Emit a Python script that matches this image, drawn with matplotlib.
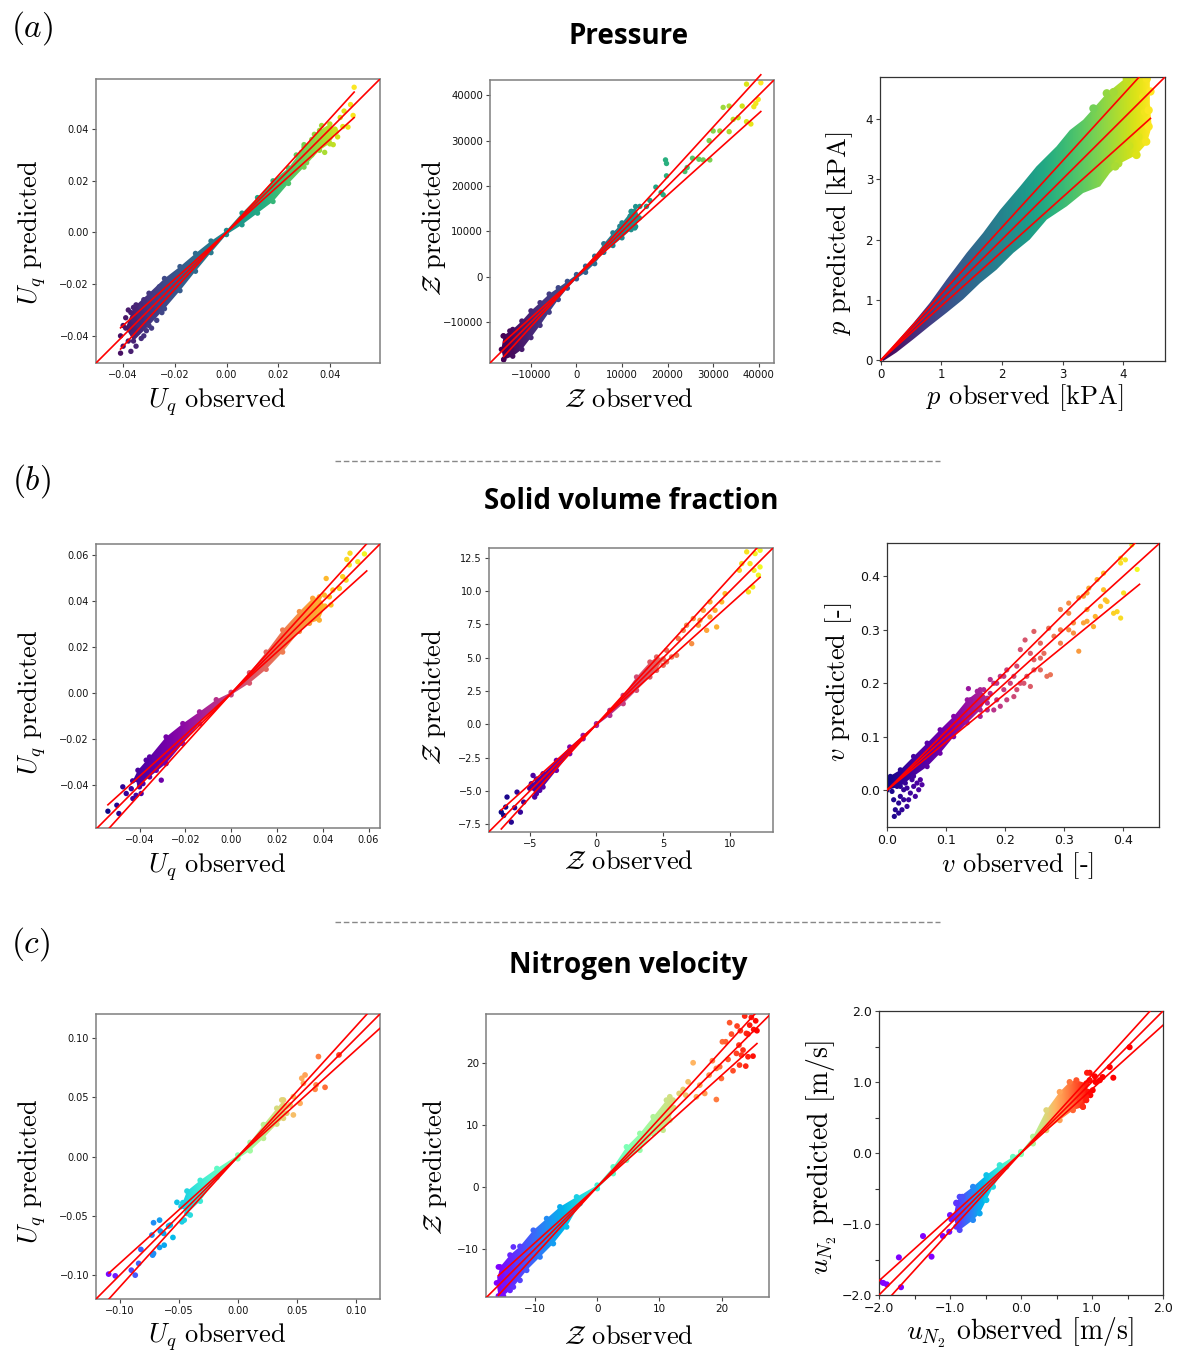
import numpy as np
import matplotlib
matplotlib.use('Agg')
import matplotlib.pyplot as plt
from matplotlib.patches import Polygon
from matplotlib.colors import Normalize
from matplotlib.lines import Line2D
from matplotlib.ticker import FuncFormatter, MultipleLocator

plt.rcParams['mathtext.fontset'] = 'cm'

# ---------------- DATA ----------------
# (a) Pressure -- Uq
a1_obs = [0.0494, 0.048, 0.049, 0.047, 0.0455, 0.044, 0.042, 0.0413, 0.040, 0.0368, 0.0394, 0.038, 0.036,
          0.035, 0.043, 0.045, 0.038, 0.033, 0.032, 0.030, 0.031, 0.033, 0.034, 0.029, 0.028, 0.027,
          -0.041, -0.041, -0.040, -0.039, -0.038, -0.037, -0.036, -0.035, -0.034, -0.033, -0.032, -0.031,
          -0.030, -0.029, -0.040, -0.038, -0.037, -0.036, -0.035, -0.034, -0.033, -0.032, -0.031, -0.030,
          -0.028, -0.027, -0.026, -0.025]
a1_pred = [0.0562, 0.0495, 0.0453, 0.0408, 0.047, 0.0445, 0.040, 0.034, 0.0343, 0.0414, 0.0382, 0.036, 0.038,
           0.035, 0.037, 0.041, 0.031, 0.036, 0.030, 0.034, 0.027, 0.030, 0.038, 0.031, 0.025, 0.030,
           -0.0467, -0.040, -0.036, -0.033, -0.042, -0.031, -0.039, -0.044, -0.036, -0.029, -0.040, -0.034,
           -0.027, -0.037, -0.044, -0.030, -0.046, -0.034, -0.028, -0.031, -0.041, -0.026, -0.038, -0.032,
           -0.025, -0.034, -0.021, -0.031]
a1_band_x = [-0.039, -0.036, -0.030, -0.024, -0.018, -0.012, -0.006, 0.0, 0.006, 0.012, 0.018, 0.024, 0.030,
             0.036, 0.040, 0.0425,
             0.040, 0.036, 0.030, 0.024, 0.018, 0.012, 0.006, 0.0, -0.006, -0.012, -0.018, -0.024, -0.030,
             -0.036]
a1_band_y = [-0.037, -0.029, -0.0235, -0.0178, -0.0132, -0.0081, -0.0033, 0.0008, 0.0075, 0.0135, 0.0200,
             0.0250, 0.0330, 0.0395, 0.0420, 0.039,
             0.0345, 0.0318, 0.0253, 0.0190, 0.0120, 0.0075, 0.0030, -0.0008, -0.0078, -0.0150, -0.0225,
             -0.0295, -0.0360, -0.0420]

# (a) Pressure -- Z
a2_obs = [37360, 40510, 39930, 39410, 38970, 32230, 33550, 36410, 34430, 35530, 37360, 38320, 30030, 31500,
          33550, 29150, 29300, 27840, 26890, 25490, 24320, 23810, 19780, 19560, 19780, 19050, 18600, 17440,
          16120, 15380, 12450, 11800, 10990, 12820, 9520, 8790, 7330, 13190, 13920, 12090,
          -15970, -16120, -15020, -14650, -12820, -11720, -13190, -15380, -14290]
a2_pred = [42490, 42780, 39120, 38240, 37510, 37360, 37650, 37650, 34720, 35090, 34210, 33700, 32160, 32160,
           32010, 30040, 25780, 25780, 25930, 26150, 24100, 23220, 22270, 25780, 24990, 18090, 18600, 19780,
           16850, 15530, 14070, 13400, 11140, 10770, 11140, 9670, 7470, 13330, 15530, 14430,
           -18170, -13040, -13040, -11940, -11940, -10840, -15240, -15600, -16700]
a2_band_x = [-16500, -16000, -14000, -12000, -10000, -8000, -6000, -4000, -2000, 0, 2000, 4000, 6000, 8000,
             10000, 12000, 13000, 13800,
             13000, 12000, 10000, 8000, 6000, 4000, 2000, 0, -2000, -4000, -6000, -8000, -10000, -12000,
             -14000, -16000]
a2_band_y = [-16000, -13000, -11600, -9750, -7500, -5700, -3800, -2400, -1000, 500, 2350, 4550, 7300, 9700,
             11900, 14400, 15500, 13000,
             11100, 10400, 8600, 6900, 5400, 2900, 1000, -440, -2500, -5000, -7800, -10700, -13400, -16000,
             -17500, -18300]

# (a) Pressure -- p [kPA]
a3_obs = [3.73, 3.84, 4.06, 4.39, 4.36, 4.42, 4.42, 4.38, 4.22, 3.92, 3.87, 4.33, 3.51, 4.45, 4.25, 4.10]
a3_pred = [4.42, 4.44, 4.66, 4.66, 4.11, 4.14, 3.87, 3.62, 3.40, 3.26, 3.21, 4.36, 4.17, 4.45, 3.70, 3.55]
a3_band_x = [0.0, 0.155, 0.54, 0.81, 1.09, 1.42, 1.69, 1.97, 2.30, 2.57, 2.90, 3.12, 3.34, 3.51, 3.73, 4.00,
             4.20, 4.44,
             4.44, 4.47, 4.39, 4.22, 3.95, 3.78, 3.62, 3.34, 3.07, 2.74, 2.46, 2.19, 1.91, 1.64, 1.36, 1.09,
             0.81, 0.54, 0.26, 0.045]
a3_band_y = [0.02, 0.18, 0.62, 0.95, 1.34, 1.78, 2.11, 2.49, 2.88, 3.21, 3.54, 3.81, 3.98, 4.17, 4.42, 4.64,
             4.69, 4.69,
             4.25, 3.87, 3.59, 3.40, 3.26, 3.10, 2.88, 2.77, 2.55, 2.33, 2.00, 1.78, 1.50, 1.28, 1.01, 0.79,
             0.57, 0.35, 0.13, -0.01]

# (b) Solid volume fraction -- Uq
b1_obs = [-0.0538, -0.0499, -0.049, -0.0473, -0.0458, -0.0436, -0.0429, -0.0415, -0.040, -0.0393, -0.0385,
          -0.0371, -0.0349, -0.0335, -0.0327, -0.0305, -0.0385,
          0.0519, 0.0582, 0.0553, 0.0516, 0.0505, 0.0502, 0.0487, 0.0473, 0.0429, 0.0444, 0.0415, 0.0407,
          0.0436, 0.0385, 0.0371, 0.0378, 0.0356, 0.0342, 0.0327]
b1_pred = [-0.0512, -0.0486, -0.0522, -0.0406, -0.0435, -0.0414, -0.0457, -0.0443, -0.0406, -0.0435, -0.037,
           -0.029, -0.0305, -0.0283, -0.0334, -0.0377, -0.0392,
           0.061, 0.0607, 0.0573, 0.0559, 0.0583, 0.0493, 0.0508, 0.0457, 0.042, 0.045, 0.05, 0.0428,
           0.0385, 0.0363, 0.0334, 0.0399, 0.0348, 0.0377, 0.0363]
b1_band_x = [-0.043, -0.0407, -0.0356, -0.0284, -0.0211, -0.0138, -0.0065, 0.0, 0.008, 0.0153, 0.0225,
             0.0298, 0.0356, 0.0385, 0.041,
             0.0385, 0.0342, 0.0298, 0.0225, 0.0153, 0.008, 0.0, -0.0065, -0.0138, -0.0211, -0.0284,
             -0.0356, -0.040]
b1_band_y = [-0.038, -0.0334, -0.0276, -0.0189, -0.0131, -0.008, -0.0027, 0.0005, 0.0090, 0.0180, 0.0276,
             0.0356, 0.0414, 0.042, 0.038,
             0.0319, 0.0305, 0.0270, 0.0180, 0.0105, 0.0045, -0.0006, -0.0055, -0.0131, -0.0218, -0.0305,
             -0.0363, -0.0392]

# (b) Solid volume fraction -- Z
b2_obs = [-7.13, -6.95, -6.7, -6.8, -6.13, -6.38, -5.95, -5.7, -5.45, -4.75, -4.63, -4.88, -4.25, -4.5,
          11.7, 12.05, 11.25, 11.88, 10.88, 11.5, 12.25, 11.8, 12.13, 11.7, 11.38, 10.7, 12.25, 9.63, 9.38,
          8.5, 8.88, 8.5, 9.0, 8.25, 7.75, 7.25, 6.75, 6.5, 7.13, 6.13, 6.0, 5.63, 5.25, 5.0, 5.25, 4.75,
          8.0, 7.63]
b2_pred = [-6.58, -6.83, -5.45, -6.2, -6.25, -7.33, -5.08, -6.58, -5.83, -3.83, -5.45, -4.45, -4.95, -4.45,
           13.43, 13.3, 12.93, 12.8, 12.05, 12.05, 11.8, 11.55, 11.18, 10.3, 9.93, 11.55, 13.05, 9.8, 9.18,
           9.18, 8.55, 8.05, 7.3, 7.05, 7.8, 7.93, 7.43, 7.05, 6.05, 6.43, 5.18, 5.05, 4.68, 4.43, 5.55, 4.8,
           8.55, 7.43]
b2_band_x = [-5.0, -4.5, -4.0, -3.0, -2.0, -1.0, 0.0, 1.0, 2.0, 3.0, 4.0, 4.5, 5.0,
             4.5, 4.0, 3.0, 2.0, 1.0, 0.0, -1.0, -2.0, -3.0, -4.0, -4.5]
b2_band_y = [-4.8, -4.1, -3.7, -2.7, -1.7, -0.83, 0.05, 1.05, 2.17, 3.55, 4.67, 5.05, 4.9,
             4.05, 3.55, 2.55, 1.55, 0.67, -0.08, -1.08, -2.2, -3.45, -4.7, -5.2]

# (b) Solid volume fraction -- v [-]
b3_obs = [0.003, 0.0085, 0.0113, 0.0141, 0.0124, 0.0198, 0.0226, 0.0283, 0.0311, 0.0339, 0.0396, 0.0452,
          0.0509, 0.0565, 0.017, 0.0057, 0.0254, 0.0367, 0.048, 0.0537, 0.0085, 0.0283, 0.0424, 0.0593,
          0.0198, 0.0339,
          0.249, 0.234, 0.226, 0.243, 0.260, 0.274, 0.294, 0.308, 0.325, 0.339, 0.342, 0.356, 0.367, 0.396,
          0.404, 0.415, 0.396, 0.424, 0.401, 0.390, 0.396, 0.384, 0.373, 0.362, 0.353, 0.339, 0.333, 0.325,
          0.350, 0.316, 0.308, 0.294, 0.294, 0.277, 0.266, 0.260, 0.249, 0.237, 0.226, 0.215, 0.220, 0.203,
          0.198, 0.186, 0.175, 0.170, 0.192, 0.181, 0.153, 0.158, 0.141, 0.367, 0.370, 0.333, 0.339, 0.308,
          0.316, 0.283,
          0.164, 0.175, 0.186, 0.198, 0.209, 0.220, 0.232, 0.243, 0.249, 0.260, 0.271, 0.170, 0.181, 0.192,
          0.203, 0.215, 0.141, 0.138]
b3_pred = [0.0164, -0.0024, -0.018, -0.0367, -0.0492, -0.0242, -0.0117, 0.0007, 0.0132, -0.0305, -0.0055,
           0.007, 0.0132, 0.0195, 0.007, 0.0257, -0.0367, -0.018, -0.0117, 0.0007, 0.0101, -0.018, 0.0195,
           0.0101, -0.043, 0.0038,
           0.297, 0.281, 0.263, 0.256, 0.275, 0.303, 0.338, 0.350, 0.360, 0.369, 0.378, 0.394, 0.406, 0.425,
           0.431, 0.459, 0.434, 0.413, 0.369, 0.334, 0.322, 0.331, 0.353, 0.344, 0.325, 0.316, 0.313, 0.260,
           0.306, 0.313, 0.300, 0.300, 0.275, 0.216, 0.256, 0.247, 0.225, 0.213, 0.200, 0.213, 0.232, 0.225,
           0.188, 0.169, 0.181, 0.163, 0.213, 0.200, 0.185, 0.138, 0.144, 0.375, 0.356, 0.363, 0.338, 0.331,
           0.294, 0.288,
           0.188, 0.207, 0.200, 0.213, 0.200, 0.188, 0.200, 0.194, 0.244, 0.225, 0.213, 0.150, 0.150, 0.157,
           0.169, 0.175, 0.169, 0.190]
b3_band_x = [0.0, 0.0226, 0.045, 0.068, 0.090, 0.113, 0.136, 0.158, 0.170,
             0.158, 0.136, 0.113, 0.090, 0.068, 0.045, 0.0226, 0.0]
b3_band_y = [0.023, 0.038, 0.063, 0.088, 0.113, 0.138, 0.169, 0.188, 0.172,
             0.150, 0.126, 0.100, 0.069, 0.044, 0.026, 0.007, 0.0]

# (c) Nitrogen velocity -- Uq
c1_obs = [-0.1093, -0.1037, -0.0901, -0.0868, -0.0839, -0.082, -0.0727, -0.0721, -0.0713, -0.0713, -0.0662,
          -0.0656, -0.0628, -0.0662, -0.0623, -0.0586, -0.0549, -0.0572, -0.0515, -0.0465, -0.0473, -0.0431,
          -0.0403, -0.0454,
          0.0682, 0.0856, 0.0738, 0.0654, 0.0662, 0.0541, 0.0569, 0.0555, 0.0527, 0.047, 0.0442, 0.047,
          0.0414, 0.0372]
c1_pred = [-0.099, -0.1005, -0.0957, -0.0999, -0.09, -0.0782, -0.0661, -0.083, -0.0816, -0.0557, -0.0535,
           -0.0627, -0.0647, -0.0765, -0.0746, -0.0585, -0.0681, -0.0577, -0.0385, -0.0388, -0.0549, -0.0436,
           -0.0492, -0.0535,
           0.0844, 0.0858, 0.0585, 0.0568, 0.0605, 0.0661, 0.0689, 0.0619, 0.045, 0.0506, 0.0436, 0.0352,
           0.0366, 0.0478]
c1_band_x = [-0.048, -0.043, -0.0318, -0.0177, 0.0, 0.0104, 0.0217, 0.033, 0.0386, 0.041,
             0.0386, 0.033, 0.0217, 0.0104, 0.0, -0.0177, -0.0318, -0.043]
c1_band_y = [-0.042, -0.0290, -0.0200, -0.0100, 0.0013, 0.0120, 0.0270, 0.0408, 0.0478, 0.042,
             0.0324, 0.0275, 0.0155, 0.0050, -0.0017, -0.0175, -0.0375, -0.0478]

# (c) Nitrogen velocity -- Z
c2_obs = [23.73, 24.8, 25.5, 24.53, 25.17, 25.7, 24.0, 24.26, 21.3, 22.5, 21.6, 23.03, 20.14, 20.67, 22.8,
          23.46, 22.4, 23.2, 21.05, 24.26, 25.07, 23.9, 22.9, 21.85, 19.71, 18.53, 19.17, 18.0, 19.98, 19.17,
          17.3, 16.5, 15.43, 14.62, 13.82, 13.18, 14.25, 15.96, 12.2,
          -15.9, -15.64, -15.1, -14.57, -13.5, -12.96, -14.03, -15.37, -12.43, -11.62]
c2_pred = [27.57, 27.36, 26.8, 26.1, 25.4, 25.2, 24.77, 24.66, 26.5, 25.96, 24.66, 25.2, 23.42, 23.42, 22.89,
           22.08, 21.54, 21.27, 20.57, 21.0, 21.1, 19.49, 19.66, 18.74, 19.39, 20.36, 19.12, 18.04, 17.5, 14.1,
           15.08, 16.42, 20.03, 16.96, 15.72, 15.08, 14.8, 14.54, 14.0,
           -12.92, -14.54, -15.62, -13.73, -9.69, -12.12, -16.7, -17.23, -15.08, -10.77]
c2_band_x = [-16.2, -15.64, -14.03, -12.43, -10.28, -8.14, -6.0, -3.32, 0.0, 2.57, 4.71, 6.86, 9.0, 11.14,
             11.68, 12.3,
             11.68, 10.6, 9.0, 6.86, 4.71, 2.57, 0.0, -2.78, -4.93, -7.07, -9.21, -11.36, -13.5, -15.1, -15.9]
c2_band_y = [-15.5, -12.92, -11.0, -9.6, -7.0, -5.12, -3.23, -1.62, 0.27, 3.23, 6.46, 8.62, 11.31, 14.0,
             14.54, 12.8,
             10.77, 9.15, 8.62, 5.92, 4.31, 2.15, -0.27, -2.69, -6.46, -9.15, -11.31, -13.46, -16.16, -17.6,
             -17.6]

# (c) Nitrogen velocity -- u_N2 [m/s]
c3_obs = [-1.99, -1.94, -1.89, -1.69, -1.72, -1.38, -1.26, -1.10, -1.01, -1.0, -0.98, -0.873, -0.826,
          -0.911, -0.817,
          1.53, 1.25, 1.30, 1.15, 1.11, 1.04, 0.967, 0.93, 1.01, 0.977, 0.92, 1.05, 0.873, 0.826, 0.967]
c3_pred = [-1.81, -1.83, -1.85, -1.89, -1.47, -1.17, -1.46, -1.17, -1.11, -0.874, -0.935, -0.982, -0.617,
           -0.71, -0.757,
           1.49, 1.21, 1.06, 1.07, 1.025, 1.08, 1.13, 1.13, 0.884, 0.814, 0.79, 1.0, 0.65, 0.743, 1.025]
c3_band_x = [-0.95, -0.911, -0.864, -0.676, -0.488, -0.30, -0.113, 0.0, 0.169, 0.357, 0.545, 0.685, 0.78,
             0.92, 0.95,
             0.92, 0.873, 0.732, 0.545, 0.357, 0.169, 0.0, -0.207, -0.394, -0.488, -0.582, -0.676, -0.864,
             -0.911]
c3_band_y = [-0.90, -0.70, -0.617, -0.476, -0.312, -0.171, -0.054, 0.016, 0.23, 0.603, 0.86, 1.0, 1.025,
             0.98, 0.86,
             0.743, 0.65, 0.603, 0.462, 0.321, 0.134, -0.016, -0.194, -0.476, -0.663, -0.851, -0.944, -1.085,
             -1.038]

section_titles = ['Pressure', 'Solid volume fraction', 'Nitrogen velocity']
section_letters = ['$(a)$', '$(b)$', '$(c)$']

# ---------------- FIGURE ----------------
W, H = 1182, 1354
fig = plt.figure(figsize=(W / 100, H / 100), dpi=100)


def rect(x0, y0, x1, y1):
    return [x0 / W, 1 - y1 / H, (x1 - x0) / W, (y1 - y0) / H]


def uminus(fmt):
    return FuncFormatter(lambda v, p: (fmt % v).replace('-', '\u2212'))


def panel(box, xlim, ylim, xticks, yticks, obs, pred, bx, by, cmap, vmin, vmax, line_rng,
          ms, tick_fs, spine_c, spine_lw, line_clip=True, fmt=None, minor=None, edge_pts=True):
    ax = fig.add_axes(rect(*box))
    norm = Normalize(vmin, vmax)
    poly = Polygon(np.column_stack([bx, by]), closed=True, fc='none', ec='none')
    ax.add_patch(poly)
    grad = np.linspace(xlim[0], xlim[1], 512)[None, :]
    im = ax.imshow(grad, cmap=cmap, norm=norm, extent=[xlim[0], xlim[1], ylim[0], ylim[1]],
                   origin='lower', aspect='auto', interpolation='bilinear', zorder=1)
    im.set_clip_path(poly)
    if edge_pts:
        ax.scatter(bx, by, c=bx, cmap=cmap, norm=norm, s=ms, edgecolors='none', zorder=2)
    ax.scatter(obs, pred, c=obs, cmap=cmap, norm=norm, s=ms, edgecolors='none', zorder=2)
    xs = np.array(line_rng)
    ax.plot(xs, 1.1 * xs, color='red', lw=1.2, zorder=3, clip_on=line_clip)
    ax.plot(xs, 0.9 * xs, color='red', lw=1.2, zorder=3, clip_on=line_clip)
    ax.plot(xlim, xlim, color='red', lw=1.2, zorder=3)
    ax.set_xlim(xlim)
    ax.set_ylim(ylim)
    ax.set_xticks(xticks)
    ax.set_yticks(yticks)
    if fmt is not None:
        ax.xaxis.set_major_formatter(uminus(fmt))
        ax.yaxis.set_major_formatter(uminus(fmt))
    if minor is not None:
        ax.xaxis.set_minor_locator(MultipleLocator(minor))
        ax.yaxis.set_minor_locator(MultipleLocator(minor))
        ax.tick_params(which='minor', length=3, width=0.8, color='#333333')
    ax.tick_params(labelsize=tick_fs, length=3, width=0.8, pad=2, color='#444444',
                   labelcolor='#111111')
    for s in ax.spines.values():
        s.set_color(spine_c)
        s.set_linewidth(spine_lw)
    return ax


def label(x, y, s, rot=0, fs=19):
    fig.text(x / W, 1 - y / H, s, rotation=rot, ha='center', va='center', fontsize=fs,
             family='cmr10')


# ---- row (a)
panel((96, 79, 380, 363), (-0.0505, 0.0594), (-0.0505, 0.0594),
      [-0.04, -0.02, 0.0, 0.02, 0.04], [-0.04, -0.02, 0.0, 0.02, 0.04],
      a1_obs, a1_pred, a1_band_x, a1_band_y, 'viridis', -0.045, 0.05, (-0.041, 0.0494),
      15, 7, '#7f7f7f', 1.1)
panel((490, 80, 774, 363), (-19000, 43400), (-19000, 43400),
      [-10000, 0, 10000, 20000, 30000, 40000], [-10000, 0, 10000, 20000, 30000, 40000],
      a2_obs, a2_pred, a2_band_x, a2_band_y, 'viridis', -16000, 40500, (-16000, 40500),
      15, 7.3, '#7f7f7f', 1.1, line_clip=False)
panel((880, 77, 1165, 361), (-0.01, 4.69), (-0.01, 4.69),
      [0, 1, 2, 3, 4], [0, 1, 2, 3, 4],
      a3_obs, a3_pred, a3_band_x, a3_band_y, 'viridis', 0.0, 4.45, (0.0, 4.45),
      36, 8.5, '#333333', 0.9, edge_pts=False)

# ---- row (b)
panel((96, 544, 380, 828), (-0.059, 0.065), (-0.0585, 0.065),
      [-0.04, -0.02, 0.0, 0.02, 0.04, 0.06], [-0.04, -0.02, 0.0, 0.02, 0.04, 0.06],
      b1_obs, b1_pred, b1_band_x, b1_band_y, 'plasma', -0.054, 0.059, (-0.0538, 0.0592),
      15, 7, '#7f7f7f', 1.1)
panel((489, 548, 773, 832), (-8.05, 13.22), (-8.07, 13.22),
      [-5, 0, 5, 10], [-7.5, -5.0, -2.5, 0.0, 2.5, 5.0, 7.5, 10.0, 12.5],
      b2_obs, b2_pred, b2_band_x, b2_band_y, 'plasma', -7.1, 12.3, (-7.13, 12.25),
      15, 7, '#7f7f7f', 1.1)
panel((887, 543, 1159, 827), (0.0, 0.461), (-0.069, 0.4625),
      [0.0, 0.1, 0.2, 0.3, 0.4], [0.0, 0.1, 0.2, 0.3, 0.4],
      b3_obs, b3_pred, b3_band_x, b3_band_y, 'plasma', 0.0, 0.425, (0.0, 0.428),
      14, 9, '#333333', 0.9)

# ---- row (c)
panel((96, 1014, 380, 1299), (-0.12, 0.1203), (-0.12, 0.1203),
      [-0.10, -0.05, 0.0, 0.05, 0.10], [-0.10, -0.05, 0.0, 0.05, 0.10],
      c1_obs, c1_pred, c1_band_x, c1_band_y, 'rainbow', -0.112, 0.105, (-0.109, 0.13),
      17, 7, '#7f7f7f', 1.1)
panel((486, 1014, 769, 1297), (-17.9, 27.64), (-17.77, 27.9),
      [-10, 0, 10, 20], [-10, 0, 10, 20],
      c2_obs, c2_pred, c2_band_x, c2_band_y, 'rainbow', -16, 26, (-15.9, 25.7),
      17, 7.5, '#7f7f7f', 1.1)
panel((879, 1011, 1163, 1295), (-2.0, 2.0), (-2.0, 2.0),
      [-2, -1, 0, 1, 2], [-2, -1, 0, 1, 2],
      c3_obs, c3_pred, c3_band_x, c3_band_y, 'rainbow', -1.05, 1.0, (-2.0, 2.1),
      19, 9, '#333333', 0.9, fmt='%.1f', minor=0.5)

# ---- axis labels
label(32, 232, r'$U_q$ predicted', 90)
label(217, 402, r'$U_q$ observed')
label(434, 228, r'$\mathcal{Z}$ predicted', 90)
label(629, 400, r'$\mathcal{Z}$ observed')
label(840, 233, r'$p$ predicted [kPA]', 90)
label(1025, 398, r'$p$ observed [kPA]')

label(32, 702, r'$U_q$ predicted', 90)
label(217, 867, r'$U_q$ observed')
label(434, 697, r'$\mathcal{Z}$ predicted', 90)
label(629, 862, r'$\mathcal{Z}$ observed')
label(839, 682, r'$v$ predicted [-]', 90)
label(1018, 866, r'$v$ observed [-]')

label(32, 1171, r'$U_q$ predicted', 90)
label(217, 1337, r'$U_q$ observed')
label(435, 1167, r'$\mathcal{Z}$ predicted', 90)
label(629, 1337, r'$\mathcal{Z}$ observed')
label(822, 1158, r'$u_{N_2}$ predicted [m/s]', 90, fs=20)
label(1020, 1333, r'$u_{N_2}$ observed [m/s]', fs=20)

# ---- section titles, letters, separators
for (tx, ty), t in zip([(629, 37), (631, 502), (628, 965)], section_titles):
    fig.text(tx / W, 1 - ty / H, t, ha='center', va='center', fontsize=20,
             family='Open Sans', weight='bold')
for (lx, ly), t in zip([(32, 28), (31, 481), (31, 944)], section_letters):
    fig.text(lx / W, 1 - ly / H, t, ha='center', va='center', fontsize=24)
for yy in (461, 922):
    fig.add_artist(Line2D([335 / W, 940 / W], [1 - yy / H, 1 - yy / H], color='#888888',
                          lw=1.0, ls=(0, (4, 2))))

fig.savefig('out.png', dpi=100)
